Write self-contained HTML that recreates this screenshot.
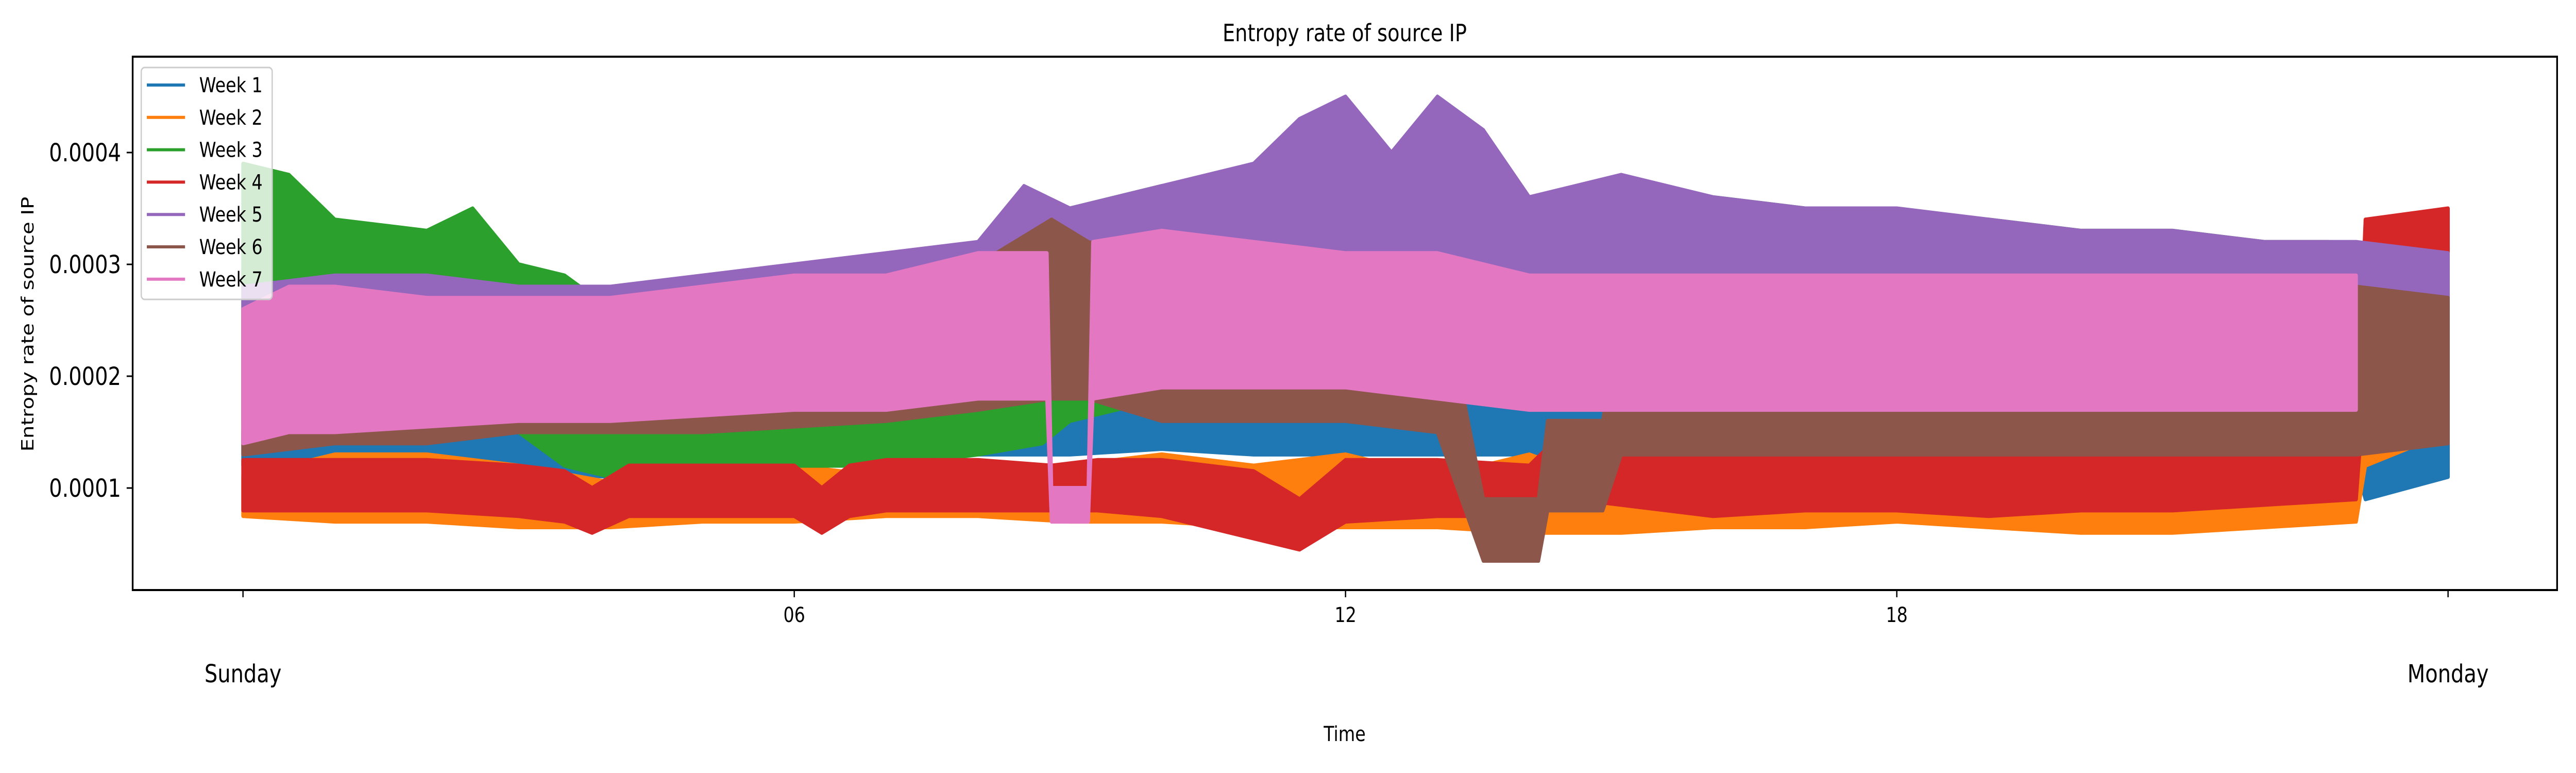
<!DOCTYPE html>
<html><head><meta charset="utf-8"><style>
html,body{margin:0;padding:0;background:#fff;width:100%;height:100%;overflow:hidden;}
svg{display:block;width:100vw;height:100vh;font-family:"DejaVu Sans","Liberation Sans",sans-serif;}
</style></head><body>
<svg id="chart" viewBox="0 0 6000 1500" preserveAspectRatio="none" xmlns="http://www.w3.org/2000/svg">
<rect width="6000" height="1500" fill="#fff"/>
<text x="3132" y="80" font-size="46" text-anchor="middle">Entropy rate of source IP</text>
<g id="series"></g>
<rect x="309" y="110" width="5647" height="1035" fill="none" stroke="#000" stroke-width="4"/>
<g id="axes"></g>
<text transform="translate(78,629) rotate(-90)" font-size="40" text-anchor="middle">Entropy rate of source IP</text>
<text x="3132" y="1438" font-size="40" text-anchor="middle">Time</text>
<g id="legend"></g>
</svg>
<script>
// ---- data (values in units of 1e-4) ----
const seriesNames = ["Week 1","Week 2","Week 3","Week 4","Week 5","Week 6","Week 7"];
const seriesColors = ["#1f77b4","#ff7f0e","#2ca02c","#d62728","#9467bd","#8c564b","#e377c2"];
const w1Hours = [0,1,2,3,4,5,6,7,8,9,10,11,12,13,14,15,16,17,18,19,20,21,22,23,23.1,24];
const w1Lo    = [1.2,1.2,1.3,1.15,1.1,1.3,1.3,1.3,1.3,1.3,1.35,1.3,1.3,1.3,1.3,1.4,1.4,1.4,1.4,1.4,1.4,1.4,1.4,1.2,0.9,1.1];
const w1Hi    = [1.5,1.6,1.6,1.5,1.5,1.6,1.6,1.7,1.8,1.9,1.9,1.9,1.85,1.8,1.7,1.7,1.7,1.7,1.7,1.7,1.7,1.7,1.7,1.7,1.7,1.8];
const w2Hours = [0,1,2,3,4,5,6,7,8,9,10,11,12,13,14,15,16,17,18,19,20,21,22,23,23.1,24];
const w2Lo    = [0.75,0.7,0.7,0.65,0.65,0.7,0.7,0.75,0.75,0.7,0.7,0.65,0.65,0.65,0.6,0.6,0.65,0.65,0.7,0.65,0.6,0.6,0.65,0.7,1.2,1.5];
const w2Hi    = [1.1,1.3,1.3,1.2,1.05,1.1,1.2,1.1,1.1,1.2,1.3,1.2,1.3,1.1,1.3,1.0,1.0,1.0,1.0,1.0,1.0,1.0,1.0,1.0,3.4,3.3];
const w3Hours = [0,0.5,1,2,2.5,3,3.5,4,5,6,7,8,8.7,9,10,11,12,13,14,15,16,17,18,19,20,21,22,22.7];
const w3Lo    = [1.4,1.5,1.6,1.6,1.6,1.5,1.2,1.1,1.1,1.2,1.2,1.3,1.4,1.6,1.8,1.9,1.9,1.9,1.9,1.9,1.9,1.9,1.9,1.9,1.9,1.9,1.9,1.9];
const w3Hi    = [3.9,3.8,3.4,3.3,3.5,3.0,2.9,2.6,2.6,2.7,2.8,3.0,3.2,3.5,3.7,3.6,3.7,3.6,3.5,3.7,3.6,3.5,3.4,3.4,3.3,3.3,3.2,3.2];
const w4Hours = [0,1,2,3,3.5,3.8,4.2,5,6,6.3,6.6,7,8,8.8,9.3,10,11,11.5,12,13,14,14.5,15,16,17,18,19,20,21,22,23,23.1,24];
const w4Lo    = [0.8,0.8,0.8,0.75,0.7,0.6,0.75,0.75,0.75,0.6,0.75,0.8,0.8,0.8,0.8,0.75,0.55,0.45,0.7,0.75,0.75,0.9,0.85,0.75,0.8,0.8,0.75,0.8,0.8,0.85,0.9,2.0,2.2];
const w4Hi    = [1.25,1.25,1.25,1.2,1.15,1.0,1.2,1.2,1.2,1.0,1.2,1.25,1.25,1.2,1.25,1.25,1.15,0.9,1.25,1.25,1.2,1.6,1.55,1.45,1.5,1.5,1.4,1.45,1.45,1.5,1.5,3.4,3.5];
const w5Hours = [0,1,2,3,4,5,6,7,8,8.5,9,10,11,11.5,12,12.5,13,13.5,14,15,16,17,18,19,20,21,22,23,24];
const w5Lo    = [1.6,1.7,1.7,1.7,1.7,1.75,1.8,1.8,1.85,1.9,2.0,2.1,2.2,2.2,2.2,2.2,2.2,2.1,2.0,2.0,2.0,2.0,2.0,1.9,1.9,1.9,1.9,1.9,1.9];
const w5Hi    = [2.8,2.9,2.9,2.8,2.8,2.9,3.0,3.1,3.2,3.7,3.5,3.7,3.9,4.3,4.5,4.0,4.5,4.2,3.6,3.8,3.6,3.5,3.5,3.4,3.3,3.3,3.2,3.2,3.1];
const w6Hours = [0,1,2,3,4,5,6,7,8,8.8,9.2,10,11,12,13,13.5,14.1,14.2,14.8,15,16,17,18,19,20,21,22,23,24];
const w6Lo    = [1.3,1.4,1.4,1.5,1.5,1.5,1.55,1.6,1.7,1.8,1.8,1.6,1.6,1.6,1.5,0.35,0.35,0.8,0.8,1.3,1.3,1.3,1.3,1.3,1.3,1.3,1.3,1.3,1.4];
const w6Hi    = [2.6,2.7,2.6,2.6,2.6,2.7,2.8,2.9,3.0,3.4,3.2,3.0,3.1,3.0,3.0,0.9,0.9,1.6,1.6,2.6,2.5,2.5,2.5,2.5,2.5,2.5,2.5,2.8,2.7];
const w7Hours = [0,0.5,1,2,3,4,5,6,7,8,8.75,8.8,9.2,9.25,10,11,12,13,14,15,16,17,18,19,20,21,22,23];
const w7Lo    = [1.4,1.5,1.5,1.55,1.6,1.6,1.65,1.7,1.7,1.8,1.8,0.7,0.7,1.8,1.9,1.9,1.9,1.8,1.7,1.7,1.7,1.7,1.7,1.7,1.7,1.7,1.7,1.7];
const w7Hi    = [2.6,2.8,2.8,2.7,2.7,2.7,2.8,2.9,2.9,3.1,3.1,1.0,1.0,3.2,3.3,3.2,3.1,3.1,2.9,2.9,2.9,2.9,2.9,2.9,2.9,2.9,2.9,2.9];
const seriesHours = [w1Hours,w2Hours,w3Hours,w4Hours,w5Hours,w6Hours,w7Hours];
const seriesLo = [w1Lo,w2Lo,w3Lo,w4Lo,w5Lo,w6Lo,w7Lo];
const seriesHi = [w1Hi,w2Hi,w3Hi,w4Hi,w5Hi,w6Hi,w7Hi];
const yTicks = [1,2,3,4];
const yTickLabels = ["0.0001","0.0002","0.0003","0.0004"];
const xTicks = [0,6,12,18,24];
const xTickLabels = ["","06","12","18",""];
const dayLabels = ["Sunday","Monday"];
const dayHours = [0,24];

// ---- scales ----
const NS = "http://www.w3.org/2000/svg";
function xScale(h){ return 566 + h * (5136/24); }
function yScale(v){ return 947 - (v - 1) * 217; }

const sg = document.getElementById('series');
for (let i = 0; i < seriesNames.length; i++) {
  const hs = seriesHours[i], lo = seriesLo[i], hi = seriesHi[i];
  let pts = [];
  for (let k = 0; k < hs.length; k++) pts.push(xScale(hs[k]).toFixed(1)+","+yScale(hi[k]).toFixed(1));
  for (let k = hs.length-1; k >= 0; k--) pts.push(xScale(hs[k]).toFixed(1)+","+yScale(lo[k]).toFixed(1));
  const p = document.createElementNS(NS,'polygon');
  p.setAttribute('points', pts.join(' '));
  p.setAttribute('fill', seriesColors[i]);
  p.setAttribute('stroke', seriesColors[i]);
  p.setAttribute('stroke-width', '8');
  p.setAttribute('stroke-linejoin', 'round');
  
  
  sg.appendChild(p);
}

const ag = document.getElementById('axes');
for (let k = 0; k < yTicks.length; k++) {
  const y = yScale(yTicks[k]);
  const t = document.createElementNS(NS,'line');
  t.setAttribute('x1',295); t.setAttribute('x2',309); t.setAttribute('y1',y); t.setAttribute('y2',y);
  t.setAttribute('stroke','#000'); t.setAttribute('stroke-width','3');
  
  
  ag.appendChild(t);
  const tx = document.createElementNS(NS,'text');
  tx.setAttribute('x',282); tx.setAttribute('y',y+17);
  tx.setAttribute('font-size','48'); tx.setAttribute('text-anchor','end');
  tx.textContent = yTickLabels[k];
  
  
  ag.appendChild(tx);
}
for (let k = 0; k < xTicks.length; k++) {
  const x = xScale(xTicks[k]);
  const t = document.createElementNS(NS,'line');
  t.setAttribute('x1',x); t.setAttribute('x2',x); t.setAttribute('y1',1145); t.setAttribute('y2',1159);
  t.setAttribute('stroke','#000'); t.setAttribute('stroke-width','3');
  
  
  ag.appendChild(t);
  if (xTickLabels[k]) {
    const tx = document.createElementNS(NS,'text');
    tx.setAttribute('x',x); tx.setAttribute('y',1207);
    tx.setAttribute('font-size','40'); tx.setAttribute('text-anchor','middle');
    tx.textContent = xTickLabels[k];
    
    
    ag.appendChild(tx);
  }
}
for (let k = 0; k < dayLabels.length; k++) {
  const tx = document.createElementNS(NS,'text');
  tx.setAttribute('x',xScale(dayHours[k])); tx.setAttribute('y',1324);
  tx.setAttribute('font-size','48'); tx.setAttribute('text-anchor','middle');
  tx.textContent = dayLabels[k];
  
  
  ag.appendChild(tx);
}

const lg = document.getElementById('legend');
const box = document.createElementNS(NS,'rect');
box.setAttribute('x',329); box.setAttribute('y',131); box.setAttribute('width',305); box.setAttribute('height',450);
box.setAttribute('rx',8); box.setAttribute('fill','rgba(255,255,255,0.8)'); box.setAttribute('stroke','#cccccc'); box.setAttribute('stroke-width','3');


lg.appendChild(box);
for (let i = 0; i < seriesNames.length; i++) {
  const y = 165 + i * 62.8;
  const l = document.createElementNS(NS,'line');
  l.setAttribute('x1',342); l.setAttribute('x2',431); l.setAttribute('y1',y); l.setAttribute('y2',y);
  l.setAttribute('stroke',seriesColors[i]); l.setAttribute('stroke-width','6');
  
  
  lg.appendChild(l);
  const tx = document.createElementNS(NS,'text');
  tx.setAttribute('x',464); tx.setAttribute('y',y+14);
  tx.setAttribute('font-size','40');
  tx.textContent = seriesNames[i];
  
  
  lg.appendChild(tx);
}
</script>
</body></html>
